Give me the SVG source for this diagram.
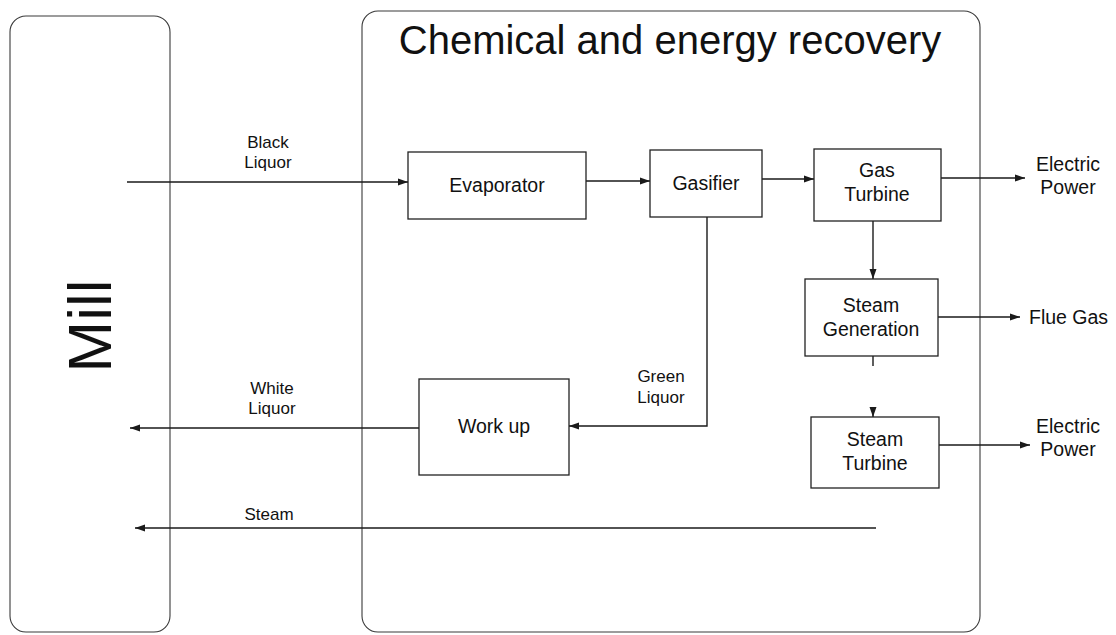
<svg xmlns="http://www.w3.org/2000/svg" width="1116" height="635" viewBox="0 0 1116 635">
<style>
.container{fill:none;stroke:#3a3a3a;stroke-width:1.1}
.box{fill:#fff;stroke:#222;stroke-width:1.3}
.lbl{font-family:"Liberation Sans",Arial,sans-serif;font-size:19.5px;fill:#111;text-anchor:middle}
.elbl{font-family:"Liberation Sans",Arial,sans-serif;font-size:17px;fill:#111;text-anchor:middle}
.conn{fill:none;stroke:#1a1a1a;stroke-width:1.4}
</style>
<defs>
<marker id="arr" markerUnits="userSpaceOnUse" markerWidth="11" markerHeight="8" refX="10" refY="4" orient="auto">
<path d="M0,0.5 L10,4 L0,7.5 Z" fill="#1a1a1a"/>
</marker>
</defs>
<rect width="1116" height="635" fill="#fff"/>

<g id="mill">
<rect class="container" x="10" y="16" width="160" height="616" rx="16"/>
<text transform="translate(111,326) rotate(-90)" font-family="'Liberation Sans',Arial,sans-serif" font-size="62" text-anchor="middle" fill="#111">Mill</text>
</g>

<g id="recovery">
<rect class="container" x="362" y="11" width="618" height="621" rx="16"/>
<text x="670" y="54" font-family="'Liberation Sans',Arial,sans-serif" font-size="40" text-anchor="middle" fill="#111">Chemical and energy recovery</text>
</g>

<g id="connectors">
<path class="conn" d="M127,182 H408" marker-end="url(#arr)"/>
<path class="conn" d="M586,181 H650" marker-end="url(#arr)"/>
<path class="conn" d="M762,179 H814" marker-end="url(#arr)"/>
<path class="conn" d="M941,178 H1025" marker-end="url(#arr)"/>
<path class="conn" d="M873,221 V279" marker-end="url(#arr)"/>
<path class="conn" d="M938,317 H1020" marker-end="url(#arr)"/>
<path class="conn" d="M873,356 V366"/>
<path class="conn" d="M873,407 V417" marker-end="url(#arr)"/>
<path class="conn" d="M939,445 H1030" marker-end="url(#arr)"/>
<path class="conn" d="M707,217 V426 H569" marker-end="url(#arr)"/>
<path class="conn" d="M419,428 H130" marker-end="url(#arr)"/>
<path class="conn" d="M876,528 H135" marker-end="url(#arr)"/>
<text class="elbl" x="268" y="148">Black</text>
<text class="elbl" x="268" y="168">Liquor</text>
<text class="elbl" x="272" y="394">White</text>
<text class="elbl" x="272" y="414">Liquor</text>
<text class="elbl" x="661" y="382">Green</text>
<text class="elbl" x="661" y="403">Liquor</text>
<text class="elbl" x="269" y="520">Steam</text>
<text class="lbl" x="1068" y="171">Electric</text>
<text class="lbl" x="1068" y="194">Power</text>
<text class="lbl" x="1068" y="433">Electric</text>
<text class="lbl" x="1068" y="456">Power</text>
<text class="lbl" x="1029" y="324" text-anchor="start" style="text-anchor:start">Flue Gas</text>
</g>

<g id="evaporator">
<rect class="box" x="408" y="152" width="178" height="67"/>
<text class="lbl" x="497" y="192">Evaporator</text>
</g>
<g id="gasifier">
<rect class="box" x="650" y="150" width="112" height="67"/>
<text class="lbl" x="706" y="190">Gasifier</text>
</g>
<g id="gas-turbine">
<rect class="box" x="814" y="149" width="127" height="72"/>
<text class="lbl" x="877" y="177">Gas</text>
<text class="lbl" x="877" y="201">Turbine</text>
</g>
<g id="steam-generation">
<rect class="box" x="805" y="279" width="133" height="77"/>
<text class="lbl" x="871" y="312">Steam</text>
<text class="lbl" x="871" y="336">Generation</text>
</g>
<g id="steam-turbine">
<rect class="box" x="811" y="417" width="128" height="71"/>
<text class="lbl" x="875" y="446">Steam</text>
<text class="lbl" x="875" y="470">Turbine</text>
</g>
<g id="work-up">
<rect class="box" x="419" y="379" width="150" height="96"/>
<text class="lbl" x="494" y="433">Work up</text>
</g>
</svg>
